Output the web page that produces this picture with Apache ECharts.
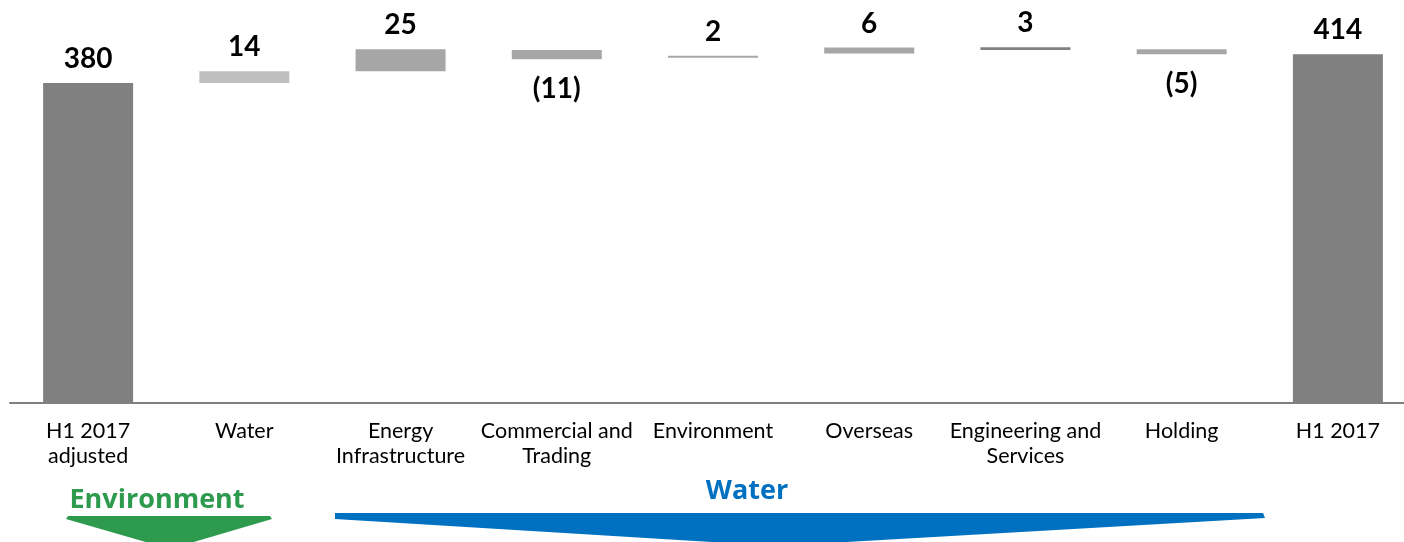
<!DOCTYPE html>
<html>
<head>
<meta charset="utf-8">
<script src="https://cdn.jsdelivr.net/npm/echarts@6/dist/echarts.min.js"></script>
<style>
  html, body { margin: 0; padding: 0; background: #fff; overflow: hidden; }
  #main { width: 1416px; height: 542px; }
</style>
</head>
<body>
<div id="main"></div>
<script>
// categories on the x axis
const categories = ['H1 2017\nadjusted', 'Water', 'Energy\nInfrastructure', 'Commercial and\nTrading',
  'Environment', 'Overseas', 'Engineering and\nServices', 'Holding', 'H1 2017'];
// shown value of each step
const deltas = [380, 14, 25, -11, 2, 6, 3, -5, 414];
// floating bar extents as drawn in the picture
const barLow = [0, 380, 394, 408, 410, 415, 419, 414, 0];
const barHigh = [380, 394, 420, 419, 412.4, 422, 422.5, 420, 414];

const barColors = ['#808080', '#bfbfbf', '#a6a6a6', '#a6a6a6', '#a6a6a6', '#a6a6a6', '#808080', '#a6a6a6', '#808080'];

const chart = echarts.init(document.getElementById('main'));

const option = {
  animation: false,
  grid: { left: 10, right: 0, top: 24, bottom: 139 },
  xAxis: {
    type: 'category',
    data: categories,
    axisLine: { show: true, lineStyle: { color: '#808080', width: 2 } },
    axisTick: { show: false },
    axisLabel: {
      interval: 0,
      margin: 16,
      color: '#000',
      fontFamily: 'Lato',
      fontSize: 21.5,
      lineHeight: 25
    }
  },
  yAxis: {
    type: 'value',
    min: 0,
    max: 450,
    show: false,
    splitLine: { show: false }
  },
  series: [
    {
      type: 'bar',
      stack: 'wf',
      silent: true,
      barWidth: 90,
      itemStyle: { color: 'transparent' },
      data: barLow
    },
    {
      type: 'bar',
      stack: 'wf',
      barWidth: 90,
      data: barHigh.map((h, i) => ({
        value: h - barLow[i],
        itemStyle: { color: barColors[i] },
        label: { position: deltas[i] < 0 ? 'bottom' : 'top', distance: deltas[i] < 0 ? 16 : 10 }
      })),
      label: {
        show: true,
        color: '#000',
        fontFamily: 'Lato',
        fontWeight: 'bold',
        fontSize: 28,
        formatter: p => {
          const v = deltas[p.dataIndex];
          return v < 0 ? '(' + Math.abs(v) + ')' : String(v);
        }
      }
    }
  ],
  graphic: [
    {
      type: 'text',
      style: { text: 'Environment', x: 157, y: 500, align: 'center', verticalAlign: 'middle',
        font: 'bold 27px "Open Sans"', fill: '#2e9a4e' }
    },
    {
      type: 'polygon',
      shape: { points: [[68, 516], [270, 516], [272, 519], [170, 549], [66, 519]] },
      style: { fill: '#2e9a4e' }
    },
    {
      type: 'text',
      style: { text: 'Water', x: 747, y: 491, align: 'center', verticalAlign: 'middle',
        font: 'bold 27px "Open Sans"', fill: '#0070c0' }
    },
    {
      type: 'polygon',
      shape: { points: [[335, 513], [1263, 513], [1265, 518], [777, 546], [335, 519]] },
      style: { fill: '#0070c0' }
    }
  ]
};

chart.setOption(option);
</script>
</body>
</html>
